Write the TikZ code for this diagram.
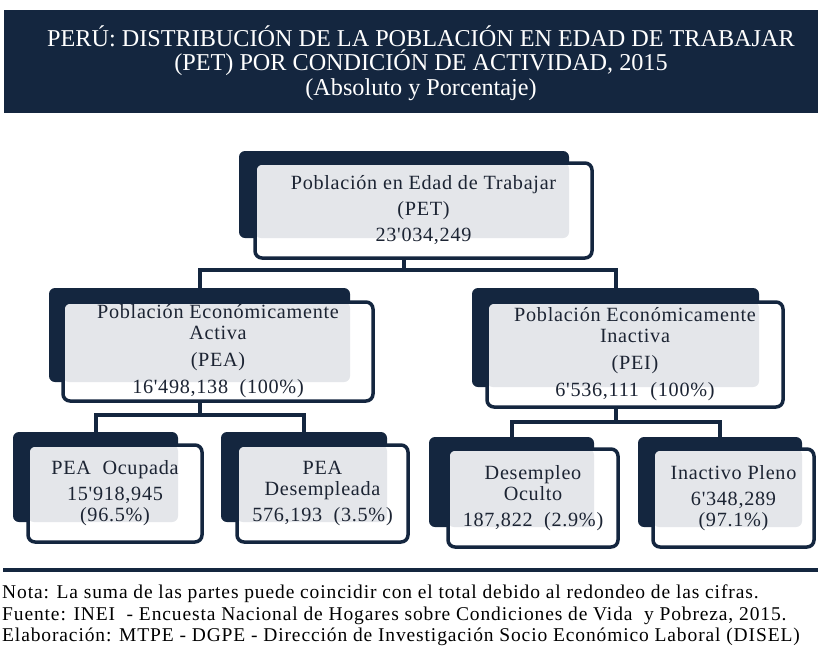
\documentclass[tikz,border=0pt]{standalone}
\usepackage{fontspec}
\setmainfont{Liberation Serif}
\newfontfamily\boxfont[LetterSpace=3.5]{Liberation Serif}
\newfontfamily\titlefont{Liberation Serif}
\newfontfamily\footfont[LetterSpace=4.5]{Liberation Serif}
\usetikzlibrary{fit}
\definecolor{navy}{HTML}{14263F}
\definecolor{lightgrey}{HTML}{E4E6EA}
\definecolor{boxtext}{HTML}{1C2433}
\tikzset{
  darkbox/.style={fill=navy, rounded corners=6pt, inner sep=0pt},
  outbox/.style={draw=navy, line width=3.5pt, rounded corners=7pt, inner sep=0pt},
  conn/.style={draw=navy, line width=4pt},
  boxtxt/.style={text=boxtext, font=\boxfont\fontsize{20.2}{21}\selectfont, align=center},
  foottxt/.style={anchor=west, inner sep=0pt, font=\footfont\fontsize{19.5}{21}\selectfont, text=black},
}
% #1 name, #2 dark corner1, #3 dark corner2, #4 outline corner1, #5 outline corner2, #6 grey corner2
\newcommand{\orgbox}[7]{%
  \node[darkbox, fit={#2 #3}] (#1d) {};
  \fill[white, rounded corners=7pt] #4 rectangle #5;
  \fill[lightgrey, rounded corners=6pt] #4 rectangle #6;
  \node[outbox, fit={#4 #5}] (#1) {};
  \node[boxtxt] (#1t) at (#1.center) {#7};
}
\begin{document}
\begin{tikzpicture}[x=1pt,y=-1pt]
\useasboundingbox (0,0) rectangle (818,648);
% title
\node[fill=navy, inner sep=0pt, fit={(4,10) (818,113)}] (title) {};
\node[text=white, align=center, font=\titlefont\fontsize{24.2}{24.5}\selectfont] (titlet) at (421,63)
  {PERÚ: DISTRIBUCIÓN DE LA POBLACIÓN EN EDAD DE TRABAJAR\\(PET) POR CONDICIÓN DE ACTIVIDAD, 2015\\(Absoluto y Porcentaje)};
% boxes
\orgbox{pet}{(239,151)}{(569,238)}{(255,163)}{(592,258)}{(569,238)}{Población en Edad de Trabajar\\[5pt](PET)\\[5pt]23'034,249}
\orgbox{pea}{(49,288)}{(350,382)}{(63,302)}{(373,401)}{(350,382)}{Población Económicamente\\Activa\\[6pt](PEA)\\[6pt]16'498,138~~(100\%)}
\orgbox{pei}{(472,288)}{(759,387)}{(487,302)}{(783,407)}{(759,387)}{Población Económicamente\\Inactiva\\[6pt](PEI)\\[6pt]6'536,111~~(100\%)}
\orgbox{ocu}{(13,432)}{(178,522)}{(28,445)}{(202,542)}{(178,522)}{PEA~~Ocupada\\[5pt]15'918,945\\(96.5\%)}
\orgbox{des}{(221,432)}{(387,522)}{(237,445)}{(408,542)}{(387,522)}{PEA\\Desempleada\\[5pt]576,193~~(3.5\%)}
\orgbox{ocl}{(429,437)}{(594,527)}{(448,449)}{(618,547)}{(594,527)}{Desempleo\\Oculto\\[5pt]187,822~~(2.9\%)}
\orgbox{ina}{(638,437)}{(802,527)}{(653,449)}{(814,547)}{(802,527)}{Inactivo Pleno\\[5pt]6'348,289\\(97.1\%)}
% connectors
\draw[conn] (pet.south -| petd.south) -- ++(0,10) coordinate (j1) -| (pead.north);
\draw[conn] (j1) -| (peid.north);
\draw[conn] (pea.south -| pead.south) -- ++(0,12) coordinate (j2) -| (ocud.north);
\draw[conn] (j2) -| (desd.north);
\draw[conn] (pei.south -| peid.south) -- ++(0,13) coordinate (j3) -| (ocld.north);
\draw[conn] (j3) -| (inad.north);
% footer
\coordinate (rl) at (3,570);
\coordinate (rr) at (818,570);
\draw[navy, line width=4pt] (rl) -- (rr);
\node[foottxt] (n1) at (2,594) {Nota: La suma de las partes puede coincidir con el total debido al redondeo de las cifras.};
\node[foottxt] (n2) at (2,616) {Fuente: INEI~ - Encuesta Nacional de Hogares sobre Condiciones de Vida~ y Pobreza, 2015.};
\node[foottxt] (n3) at (2,637) {Elaboración: MTPE - DGPE - Dirección de Investigación Socio Económico Laboral (DISEL)};
\end{tikzpicture}
\end{document}
